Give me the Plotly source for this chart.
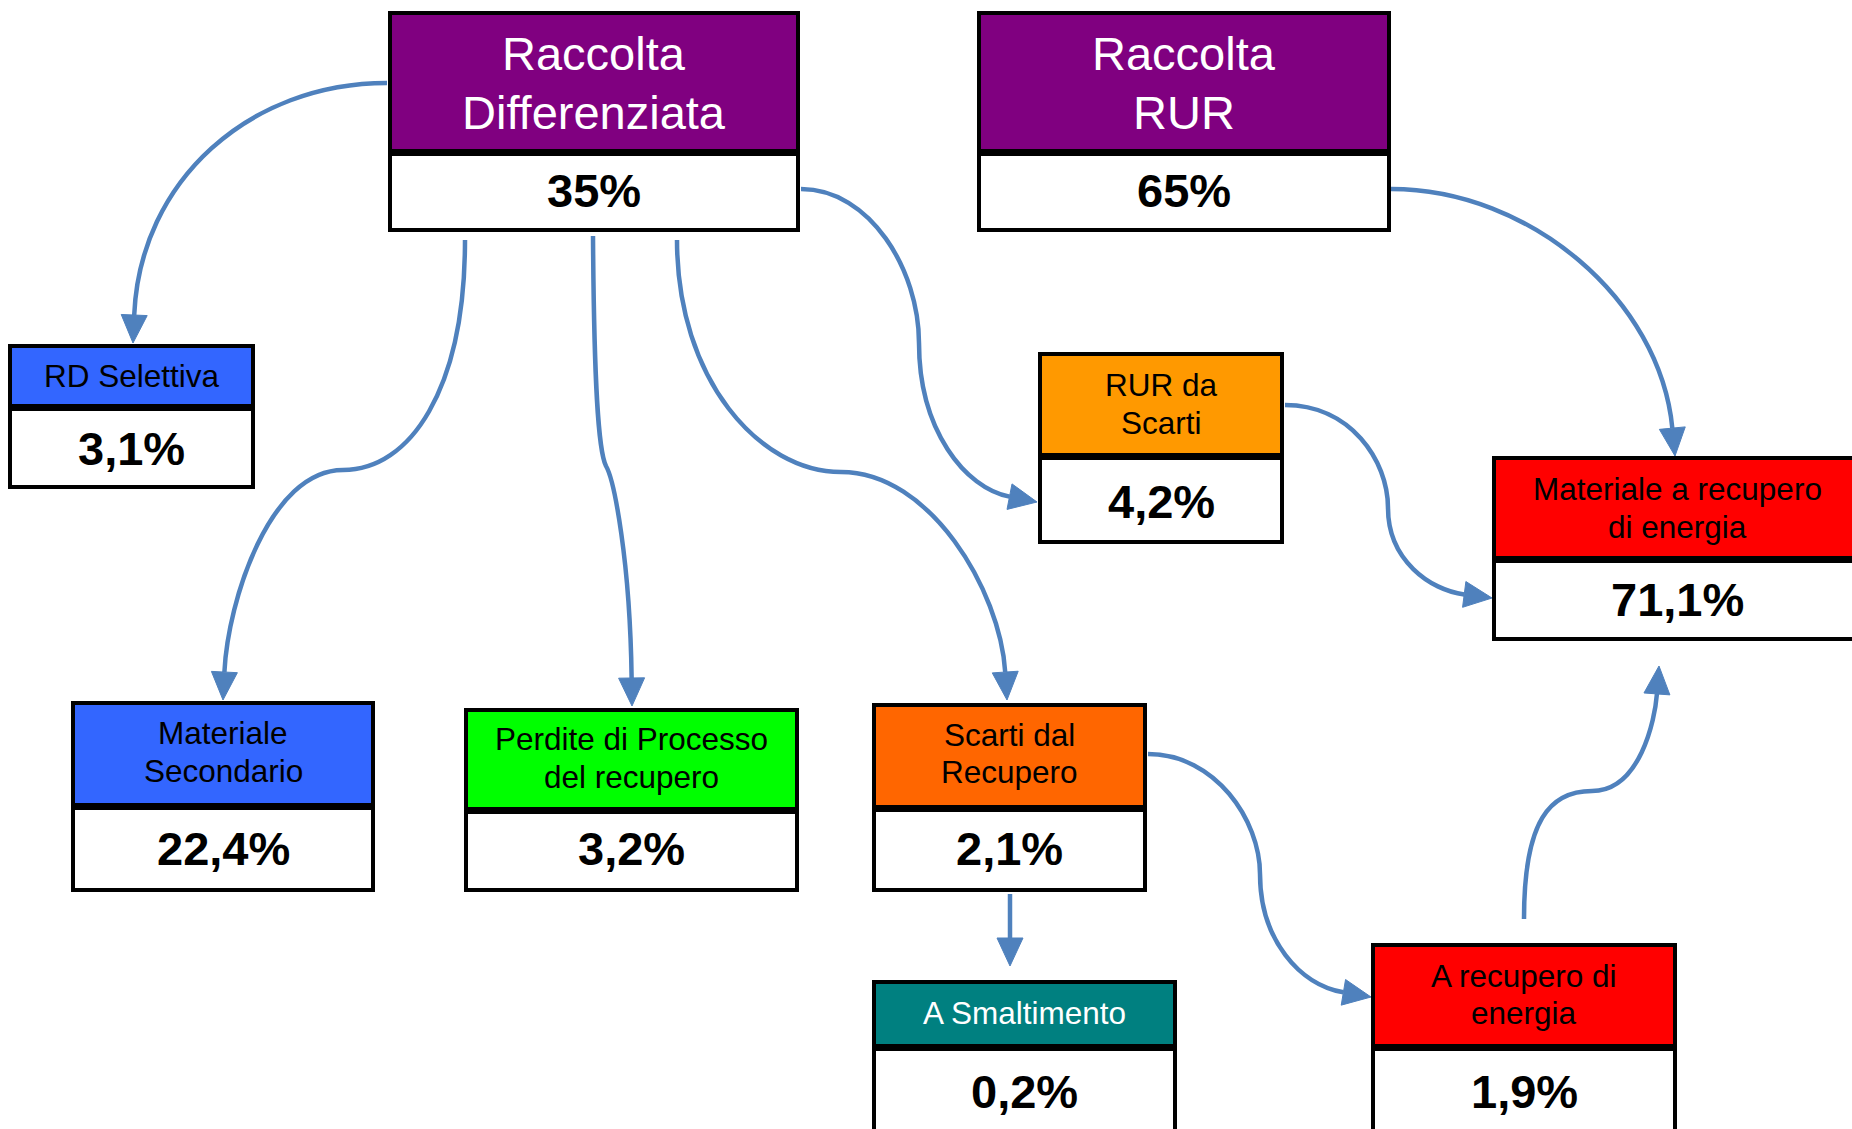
import math
import plotly.graph_objects as go

# ---------------- data ----------------
node_labels = [
    "Raccolta<br>Differenziata",          # 0
    "Raccolta<br>RUR",                    # 1
    "RD Selettiva",                       # 2
    "RUR da<br>Scarti",                   # 3
    "Materiale a recupero<br>di energia", # 4
    "Materiale<br>Secondario",            # 5
    "Perdite di Processo<br>del recupero",# 6
    "Scarti dal<br>Recupero",             # 7
    "A Smaltimento",                      # 8
    "A recupero di<br>energia",           # 9
]
node_values = [35, 65, 3.1, 4.2, 71.1, 22.4, 3.2, 2.1, 0.2, 1.9]
flow_source = [0, 0, 0, 0, 0, 1, 3, 7, 7, 9]
flow_target = [2, 5, 6, 7, 3, 4, 4, 9, 8, 4]

# ---------------- styles ----------------
header_colors = ["#800080", "#800080", "#3366FF", "#FF9900", "#FF0000",
                 "#3366FF", "#00FF00", "#FF6600", "#008080", "#FF0000"]
text_colors = ["white", "white", "black", "black", "black",
               "black", "black", "black", "white", "black"]
header_sizes = [47, 47, 31.5, 31.5, 31.5, 31.5, 31.5, 31.5, 31.5, 31.5]
VALUE_SIZE = 47
ARROW_COLOR = "#4F81BD"
FONT = "Liberation Sans, Arial, sans-serif"

# ---------------- layout (pixel positions) ----------------
# x0, x1, y0, div0, div1, y1, header line centers, value center
boxes = [
    (390, 798, 13, 149, 156, 230, [53, 112], 190),
    (979, 1389, 13, 149, 156, 230, [53, 112], 190),
    (10, 253, 346, 404, 411, 487, [376], 448),
    (1040, 1282, 354, 453, 460, 542, [385, 423], 501),
    (1494, 1860, 458, 556, 563, 639, [489, 527], 599),
    (73, 373, 703, 803, 810, 890, [733, 771], 848),
    (466, 797, 710, 807, 814, 890, [739, 777], 848),
    (874, 1145, 705, 805, 812, 890, [735, 772], 848),
    (874, 1175, 982, 1044, 1051, 1140, [1013], 1091),
    (1373, 1675, 945, 1044, 1051, 1140, [976, 1013], 1091),
]

# arrow paths (segments of cubic beziers or straight lines), in flow order
arrow_paths = [
    [[(387, 83), (250, 83), (140, 180), (133, 343)]],
    [[(465, 240), (465, 390), (410, 470), (343, 470)],
     [(343, 470), (270, 470), (228, 600), (223, 700)]],
    [[(593, 236), (594, 380), (598, 450), (606, 466)],
     [(606, 466), (614, 480), (630, 560), (632, 706)]],
    [[(677, 240), (677, 380), (760, 472), (841, 472)],
     [(841, 472), (930, 472), (1000, 590), (1007, 700)]],
    [[(801, 189), (870, 189), (919, 270), (919, 343)],
     [(919, 343), (919, 430), (965, 488), (1037, 502)]],
    [[(1391, 189), (1530, 189), (1660, 300), (1675, 456)]],
    [[(1285, 405), (1350, 405), (1388, 460), (1388, 508)],
     [(1388, 508), (1388, 560), (1430, 590), (1492, 598)]],
    [[(1148, 754), (1215, 754), (1260, 820), (1260, 874)],
     [(1260, 874), (1260, 940), (1300, 985), (1371, 997)]],
    [[(1010, 894), (1010, 966)]],
    [[(1524, 919), (1524, 820), (1550, 791), (1592, 791)],
     [(1592, 791), (1640, 791), (1655, 720), (1659, 666)]],
]
ARROW_LEN = 28
ARROW_W = 26
LINE_W = 4.5

W, H = 1852, 1129


def fmt_value(v):
    return f"{v:g}".replace(".", ",") + "%"


shapes = []
annotations = []

# arrows
for segs in arrow_paths:
    segs = [list(s) for s in segs]
    last = segs[-1]
    tip = last[-1]
    prev = last[-2]
    dx, dy = tip[0] - prev[0], tip[1] - prev[1]
    n = math.hypot(dx, dy)
    ux, uy = dx / n, dy / n
    base = (tip[0] - ARROW_LEN * ux, tip[1] - ARROW_LEN * uy)
    last[-1] = base
    d = f"M {segs[0][0][0]},{segs[0][0][1]}"
    for s in segs:
        if len(s) == 4:
            d += f" C {s[1][0]},{s[1][1]} {s[2][0]},{s[2][1]} {s[3][0]},{s[3][1]}"
        else:
            d += f" L {s[1][0]},{s[1][1]}"
    shapes.append(dict(type="path", path=d, xref="x", yref="y",
                       line=dict(color=ARROW_COLOR, width=LINE_W)))
    px, py = -uy, ux
    b1 = (base[0] + ARROW_W / 2 * px, base[1] + ARROW_W / 2 * py)
    b2 = (base[0] - ARROW_W / 2 * px, base[1] - ARROW_W / 2 * py)
    tri = f"M {tip[0]},{tip[1]} L {b1[0]},{b1[1]} L {b2[0]},{b2[1]} Z"
    shapes.append(dict(type="path", path=tri, xref="x", yref="y",
                       fillcolor=ARROW_COLOR, line=dict(color=ARROW_COLOR, width=1)))

# boxes
for i, (x0, x1, y0, d0, d1, y1, hl, vy) in enumerate(boxes):
    shapes.append(dict(type="rect", xref="x", yref="y", x0=x0, x1=x1, y0=y0, y1=d0,
                       fillcolor=header_colors[i], line=dict(width=0)))
    shapes.append(dict(type="rect", xref="x", yref="y", x0=x0, x1=x1, y0=d1, y1=y1,
                       fillcolor="white", line=dict(width=0)))
    shapes.append(dict(type="rect", xref="x", yref="y", x0=x0, x1=x1, y0=d0, y1=d1,
                       fillcolor="black", line=dict(width=0)))
    shapes.append(dict(type="rect", xref="x", yref="y", x0=x0, x1=x1, y0=y0, y1=y1,
                       fillcolor="rgba(0,0,0,0)", line=dict(color="black", width=4)))
    cx = (x0 + x1) / 2
    lines = node_labels[i].split("<br>")
    for line, ly in zip(lines, hl):
        annotations.append(dict(x=cx, y=ly, xref="x", yref="y", text=line,
                                showarrow=False, xanchor="center", yanchor="middle",
                                font=dict(family=FONT, size=header_sizes[i],
                                          color=text_colors[i])))
    annotations.append(dict(x=cx, y=vy, xref="x", yref="y",
                            text="<b>" + fmt_value(node_values[i]) + "</b>",
                            showarrow=False, xanchor="center", yanchor="middle",
                            font=dict(family=FONT, size=VALUE_SIZE, color="black")))

fig = go.Figure()
fig.add_trace(go.Scatter(x=[0, W], y=[0, H], mode="markers",
                         marker=dict(opacity=0), hoverinfo="skip", showlegend=False))
fig.update_layout(
    width=W, height=H,
    margin=dict(l=0, r=0, t=0, b=0),
    paper_bgcolor="white", plot_bgcolor="white",
    xaxis=dict(range=[0, W], visible=False, fixedrange=True),
    yaxis=dict(range=[H, 0], visible=False, fixedrange=True),
    shapes=shapes, annotations=annotations, showlegend=False,
)
fig.write_html("out.html", config={"displayModeBar": False},
               post_script="document.body.style.margin='0';document.body.style.overflow='hidden';")
